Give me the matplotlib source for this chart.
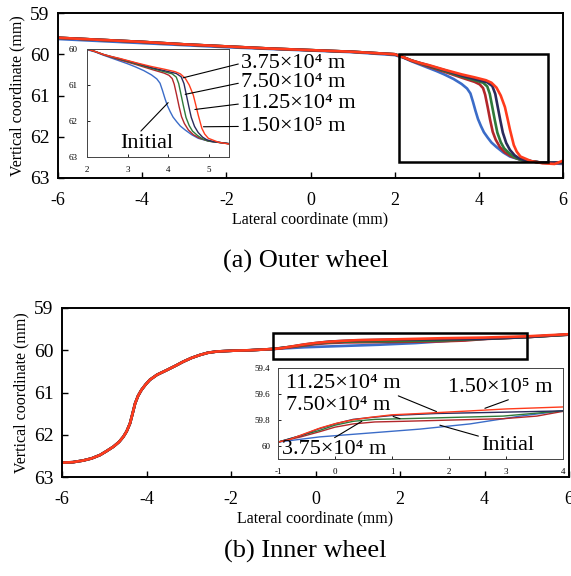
import matplotlib
matplotlib.use('Agg')
import matplotlib.pyplot as plt
from matplotlib.patches import Rectangle

plt.rcParams['font.family'] = ['Liberation Serif', 'DejaVu Serif']
plt.rcParams['axes.unicode_minus'] = False

# ---------------- data: (a) outer wheel ----------------
labels = ['Initial', '3.75×10⁴ m', '7.50×10⁴ m', '11.25×10⁴ m', '1.50×10⁵ m']
colors = ['#3b6cc8', '#b3272a', '#2f7a3a', '#2b2a5c', '#ff3b1c']

outer_x_common = [-6, -5, -4, -3, -2, -1, 0, 1, 2]
outer_y_common = [59.60, 59.65, 59.70, 59.76, 59.81, 59.86, 59.90, 59.94, 60.00]
outer_y_common_init = [59.63, 59.68, 59.73, 59.78, 59.83, 59.87, 59.91, 59.95, 60.02]

outer_init_x = [2.2, 2.4, 2.6, 2.8, 3.0, 3.18, 3.4, 3.59, 3.72, 3.8, 3.86, 3.92, 3.98, 4.05, 4.12, 4.21, 4.3, 4.42, 4.58, 4.74, 5.0, 5.5, 6.0]
outer_init_y = [60.08, 60.17, 60.25, 60.33, 60.41, 60.49, 60.6, 60.72, 60.83, 60.95, 61.15, 61.37, 61.57, 61.74, 61.89, 62.02, 62.14, 62.25, 62.38, 62.48, 62.56, 62.63, 62.66]

outer_375_x = [2.2, 2.4, 2.6, 2.8, 3.2, 3.6, 3.9, 4.02, 4.1, 4.15, 4.21, 4.27, 4.33, 4.4, 4.5, 4.62, 4.78, 5.0, 5.5, 6.0]
outer_375_y = [60.07, 60.16, 60.23, 60.30, 60.43, 60.57, 60.67, 60.73, 60.82, 60.98, 61.28, 61.6, 61.88, 62.07, 62.25, 62.38, 62.48, 62.56, 62.63, 62.64]

outer_750_x = [2.2, 2.4, 2.6, 2.8, 3.2, 3.6, 3.9, 4.1, 4.2, 4.26, 4.32, 4.38, 4.44, 4.52, 4.6, 4.72, 4.85, 5.0, 5.5, 6.0]
outer_750_y = [60.07, 60.15, 60.22, 60.28, 60.41, 60.54, 60.63, 60.69, 60.78, 60.96, 61.28, 61.6, 61.9, 62.13, 62.28, 62.4, 62.5, 62.56, 62.63, 62.63]

outer_1125_x = [2.2, 2.4, 2.6, 2.8, 3.2, 3.6, 3.9, 4.2, 4.32, 4.39, 4.45, 4.51, 4.57, 4.65, 4.74, 4.85, 4.95, 5.1, 5.5, 6.0]
outer_1125_y = [60.07, 60.15, 60.21, 60.27, 60.39, 60.52, 60.6, 60.68, 60.77, 60.96, 61.28, 61.6, 61.9, 62.15, 62.32, 62.45, 62.52, 62.57, 62.63, 62.62]

outer_150_x = [2.2, 2.4, 2.6, 2.8, 3.2, 3.6, 3.9, 4.17, 4.3, 4.42, 4.52, 4.62, 4.68, 4.74, 4.83, 4.9, 4.99, 5.24, 5.5, 5.8, 6.0]
outer_150_y = [60.07, 60.15, 60.21, 60.26, 60.38, 60.49, 60.56, 60.63, 60.69, 60.81, 61.0, 61.28, 61.55, 61.83, 62.2, 62.36, 62.48, 62.59, 62.64, 62.66, 62.58]

# ---------------- data: (b) inner wheel ----------------
inner_x_common = [-6, -5.75, -5.5, -5.3, -5.1, -4.95, -4.78, -4.65, -4.55, -4.47, -4.39, -4.33, -4.27,
                  -4.2, -4.12, -4.02, -3.92, -3.75, -3.52, -3.3, -3.13, -2.93, -2.73, -2.55, -2.34,
                  -1.95, -1.55, -1.0]
inner_y_common = [62.66, 62.65, 62.61, 62.56, 62.48, 62.39, 62.28, 62.17, 62.05, 61.92, 61.73, 61.5, 61.26,
                  61.08, 60.94, 60.81, 60.7, 60.58, 60.47, 60.36, 60.27, 60.18, 60.11, 60.06, 60.03,
                  60.01, 60.0, 59.97]

inner_init_x = [-0.27, 0.61, 1.49, 2.37, 3.25, 3.98, 5.0, 6.0]
inner_init_y = [59.93, 59.90, 59.87, 59.83, 59.77, 59.73, 59.68, 59.63]
inner_375_x = [-0.6, -0.27, 0.0, 0.32, 0.7, 1.2, 2.08, 2.95, 3.54, 3.98, 5.0, 6.0]
inner_375_y = [59.93, 59.89, 59.855, 59.83, 59.815, 59.81, 59.80, 59.79, 59.77, 59.735, 59.69, 59.63]
inner_750_x = [-0.6, -0.27, 0.0, 0.32, 0.7, 1.2, 2.08, 2.95, 3.98, 5.0, 6.0]
inner_750_y = [59.92, 59.88, 59.84, 59.81, 59.795, 59.79, 59.78, 59.77, 59.73, 59.69, 59.63]
inner_1125_x = [-0.6, -0.3, 0.0, 0.32, 0.65, 1.0, 1.78, 2.95, 3.98, 5.0, 6.0]
inner_1125_y = [59.92, 59.87, 59.83, 59.795, 59.78, 59.765, 59.75, 59.74, 59.73, 59.69, 59.625]
inner_150_x = [-0.8, -0.56, -0.25, 0.03, 0.3, 0.61, 1.0, 1.49, 2.37, 3.0, 3.98, 5.0, 6.0]
inner_150_y = [59.95, 59.91, 59.86, 59.825, 59.80, 59.78, 59.76, 59.75, 59.73, 59.715, 59.70, 59.67, 59.62]

outer = [
    (outer_x_common + outer_init_x, outer_y_common_init + outer_init_y),
    (outer_x_common + outer_375_x, outer_y_common + outer_375_y),
    (outer_x_common + outer_750_x, outer_y_common + outer_750_y),
    (outer_x_common + outer_1125_x, outer_y_common + outer_1125_y),
    (outer_x_common + outer_150_x, outer_y_common + outer_150_y),
]
inner = [
    (inner_x_common + inner_init_x, inner_y_common + inner_init_y),
    (inner_x_common + inner_375_x, inner_y_common + inner_375_y),
    (inner_x_common + inner_750_x, inner_y_common + inner_750_y),
    (inner_x_common + inner_1125_x, inner_y_common + inner_1125_y),
    (inner_x_common + inner_150_x, inner_y_common + inner_150_y),
]

W, H = 571, 576
fig = plt.figure(figsize=(W / 100, H / 100), dpi=100)


def px_axes(l, t, r, b):
    return fig.add_axes([l / W, 1 - b / H, (r - l) / W, (b - t) / H])


def style_main(ax):
    ax.set_xlim(-6, 6)
    ax.set_ylim(63, 59)
    ax.set_xticks(range(-6, 7, 2))
    ax.set_yticks(range(59, 64))
    ax.tick_params(direction='in', length=4, width=1, top=False, right=False)
    ax.tick_params(axis='x', labelsize=13, pad=10)
    ax.tick_params(axis='y', labelsize=14, pad=6)
    for s in ax.spines.values():
        s.set_linewidth(1.4)
    ax.set_xlabel('Lateral coordinate (mm)', fontsize=11.5, labelpad=2)
    ax.set_ylabel('Vertical coordinate (mm)', fontsize=11.5, labelpad=3)


def style_inset(ax, ypad):
    ax.tick_params(direction='in', length=2, width=0.6, labelsize=6.5)
    ax.tick_params(axis='x', pad=6.5)
    ax.tick_params(axis='y', pad=ypad)
    for s in ax.spines.values():
        s.set_linewidth(0.7)
        s.set_color('#444444')


# ---------------- (a) ----------------
ax1 = px_axes(58, 13, 563, 178)
for (x, y), c in zip(outer, colors):
    ax1.plot(x, y, color=c, lw=1.9)
style_main(ax1)
ax1.add_patch(Rectangle((2.1, 60.0), 3.55, 2.6, fill=False, ec='black', lw=1.8, zorder=5))

ins1 = px_axes(87, 49, 229, 157)
for (x, y), c in zip(outer, colors):
    ins1.plot(x, y, color=c, lw=1.0)
ins1.set_xlim(2, 5.5)
ins1.set_ylim(63, 60)
ins1.set_xticks([2, 3, 4, 5])
ins1.set_yticks([60, 61, 62, 63])
style_inset(ins1, 7)

line_kw = dict(arrowstyle='-', color='black', lw=0.8, shrinkA=0, shrinkB=0)
outer_label_pos = [(-1.65, 60.22), (-1.65, 60.69), (-1.65, 61.2), (-1.65, 61.75)]
outer_label_tip = [(4.37, 60.8), (4.42, 61.26), (4.66, 61.68), (4.87, 62.16)]
for lab, pos, tip in zip(labels[1:], outer_label_pos, outer_label_tip):
    ins1.annotate(lab, xy=tip, xytext=pos, textcoords=ax1.transData, fontsize=16,
                  ha='left', va='center', annotation_clip=False,
                  arrowprops=dict(relpos=(0, 0.5), **line_kw))
ins1.annotate('Initial', xy=(4.0, 61.49), xytext=(3.48, 62.62), fontsize=16,
              ha='center', va='center',
              arrowprops=dict(relpos=(0.3, 0.9), **line_kw))

fig.text(0.535, 1 - 261 / H, '(a) Outer wheel', ha='center', va='center', fontsize=19)

# ---------------- (b) ----------------
ax2 = px_axes(62, 308, 569, 477)
for (x, y), c in zip(inner, colors):
    ax2.plot(x, y, color=c, lw=1.9)
style_main(ax2)
ax2.add_patch(Rectangle((-1.0, 59.58), 6.0, 0.63, fill=False, ec='black', lw=1.8, zorder=5))

ins2 = px_axes(278, 368, 563, 459)
for (x, y), c in zip(inner, colors):
    ins2.plot(x, y, color=c, lw=1.0)
ins2.set_xlim(-1, 4)
ins2.set_ylim(60.1, 59.4)
ins2.set_xticks([-1, 0, 1, 2, 3, 4])
ins2.set_yticks([59.4, 59.6, 59.8, 60.0])
ins2.set_yticklabels(['59.4', '59.6', '59.8', '60'])
style_inset(ins2, 5.5)

ins2.annotate(labels[3], xy=(1.78, 59.735), xytext=(-0.86, 59.52), fontsize=16,
              ha='left', va='center', arrowprops=dict(relpos=(0.78, 0.35), **line_kw))
ins2.annotate(labels[4], xy=(2.63, 59.71), xytext=(2.9, 59.55), fontsize=16,
              ha='center', va='center', arrowprops=dict(relpos=(0.7, 0.1), **line_kw))
ins2.annotate(labels[2], xy=(1.14, 59.79), xytext=(-0.86, 59.69), fontsize=16,
              ha='left', va='center', arrowprops=dict(relpos=(0.82, 0.3), **line_kw))
ins2.annotate(labels[1], xy=(0.47, 59.81), xytext=(-0.93, 60.03), fontsize=16,
              ha='left', va='center', arrowprops=dict(relpos=(0.4, 0.8), **line_kw))
ins2.annotate('Initial', xy=(1.84, 59.84), xytext=(3.03, 60.0), fontsize=16,
              ha='center', va='center', arrowprops=dict(relpos=(0.1, 0.9), **line_kw))

fig.text(0.535, 1 - 551 / H, '(b) Inner wheel', ha='center', va='center', fontsize=19)

fig.savefig('out.png', dpi=100)
